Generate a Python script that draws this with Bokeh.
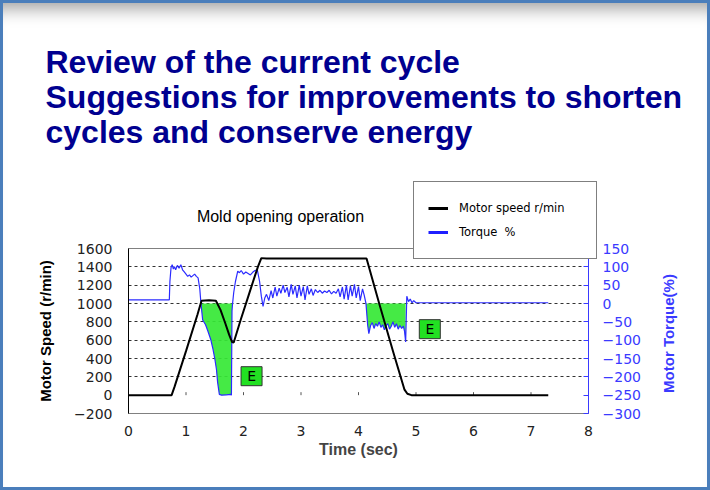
import numpy as np
from bokeh.plotting import figure
from bokeh.layouts import column
from bokeh.models import (Range1d, LinearAxis, FixedTicker, Label, Legend, LegendItem,
                          CustomJSTickFormatter)
from bokeh.core.properties import value
from bokeh.embed import file_html
from bokeh.resources import INLINE

# ---------------- data ----------------
speed_t = [0.0, 0.75, 0.80, 1.00, 1.20, 1.27, 1.40, 1.52, 1.60, 1.68, 1.75, 1.80, 1.83,
           1.95, 2.10, 2.25, 2.31, 2.40, 3.00, 3.60, 4.14, 4.36, 4.60, 4.80, 4.85, 4.92, 7.30]
speed_rpm = [0, 0, 90, 480, 880, 1030, 1035, 1030, 930, 790, 660, 580, 575,
             820, 1110, 1400, 1495, 1492, 1490, 1492, 1490, 1000, 480, 60, 15, 0, 0]

torque_t = [0.00, 0.71, 0.72, 0.74, 0.76, 0.78, 0.80, 0.82, 0.85, 0.88, 0.91, 0.94, 0.97,
            1.00, 1.03, 1.06, 1.09, 1.12, 1.15, 1.18, 1.21, 1.24, 1.26, 1.29, 1.34, 1.38,
            1.43, 1.47, 1.50, 1.53, 1.55, 1.58, 1.62, 1.70, 1.78, 1.79, 1.80, 1.81, 1.83,
            1.86, 1.90, 1.93, 1.96, 2.00, 2.04, 2.08, 2.12, 2.16, 2.20, 2.24, 2.28, 2.31,
            2.34, 2.37, 2.40, 2.44, 2.48, 2.51, 2.55, 2.58, 2.62, 2.65, 2.69, 2.72, 2.76,
            2.79, 2.83, 2.86, 2.90, 2.93, 2.97, 3.00, 3.04, 3.07, 3.11, 3.14, 3.18, 3.21,
            3.25, 3.29, 3.33, 3.37, 3.41, 3.45, 3.49, 3.53, 3.57, 3.61, 3.65, 3.68, 3.72,
            3.75, 3.79, 3.82, 3.86, 3.89, 3.93, 3.96, 4.00, 4.03, 4.07, 4.10, 4.13, 4.16,
            4.18, 4.21, 4.24, 4.27, 4.30, 4.33, 4.36, 4.39, 4.42, 4.45, 4.48, 4.51, 4.54,
            4.57, 4.60, 4.63, 4.66, 4.69, 4.72, 4.75, 4.78, 4.80, 4.82, 4.84, 4.87, 4.90,
            4.93, 4.96, 5.00, 7.30]
torque_pct = [10, 10, 60, 98, 106, 94, 100, 92, 104, 96, 106, 92, 86,
              80, 74, 78, 72, 76, 80, 74, 70, 40, 0, -45, -58, -75,
              -98, -125, -150, -180, -215, -248, -250, -249, -248, -250, -20, 0, 30,
              60, 88, 84, 90, 80, 86, 82, 78, 85, 90, 92, 60, 20,
              -8, 15, 25, 8, 35, 15, 45, 20, 42, 28, 50, 30, 44,
              18, 52, 25, 48, 15, 50, 20, 46, 10, 48, 25, 40, 22,
              38, 30, 36, 28, 34, 30, 36, 26, 33, 28, 40, 18, 45,
              12, 50, 10, 48, 20, 52, 15, 46, 8, 40, 22, 0, -60,
              -82, -60, -52, -68, -55, -62, -50, -65, -58, -72, -60, -55, -70,
              -62, -50, -65, -55, -70, -60, -68, -62, -75, -105, 20, 5, 12,
              2, 8, 2, 2]

energy_windows = [(1.26, 1.80), (4.13, 4.82)]   # regenerative ("E") torque regions
e_label_t = [2.14, 5.24]
e_label_rpm = [207, 720]

x_ticks = [0, 1, 2, 3, 4, 5, 6, 7, 8]
zero_line_ticks = [1, 2, 3, 4, 5, 6, 7]
speed_ticks = [-200, 0, 200, 400, 600, 800, 1000, 1200, 1400, 1600]
torque_ticks = [-300, -250, -200, -150, -100, -50, 0, 50, 100, 150]
grid_ticks = [200, 400, 600, 800, 1000, 1200, 1400]

title_lines = ["Review of the current cycle",
               "Suggestions for improvements to shorten",
               "cycles and conserve energy"]
chart_title = "Mold opening operation"
legend_labels = ["Motor speed r/min", "Torque  %"]
torque_axis_title = "Motor Torque(%)"

# ---------------- layout ----------------
PAGE_W, PAGE_H = 710, 490
FL, FT, FW, FH = 128, 248, 460, 165
X0, X1 = 0, 8
Y0, Y1 = -200, 1600
T0, T1 = -300, 150

BLUE = "#2b2bff"
AXBLUE = "#3a3aff"
GREEN = "#35e835"
NAVY = "#000090"


def no_frame_align(fig):
    try:
        fig.frame_align = False
    except Exception:
        pass


# ---------------- overlay figure: free texts + legend (pixel coordinates) ----------------
ph = figure(width=PAGE_W, height=PAGE_H, output_backend="svg", toolbar_location=None,
            title=None, x_range=Range1d(0, PAGE_W), y_range=Range1d(PAGE_H, 0),
            x_axis_location=None, y_axis_location=None,
            min_border=0, min_border_left=0, min_border_right=0,
            min_border_top=0, min_border_bottom=0,
            background_fill_color=None, border_fill_color=None, outline_line_color=None)
ph.grid.visible = False
ph.styles = {"position": "relative", "z-index": "2"}
no_frame_align(ph)

for i, line in enumerate(title_lines):
    ph.add_layout(Label(x=45, y=61 + 35 * i, text=line, text_font="Liberation Sans",
                        text_font_style="bold", text_font_size="32px", text_color=NAVY,
                        text_baseline="alphabetic", text_align="left"))

ph.add_layout(Label(x=280, y=216, text=chart_title, text_font="Liberation Sans",
                    text_font_size="16px", text_color="black", text_align="center",
                    text_baseline="middle"))

ph.add_layout(Label(x=668, y=333, text=torque_axis_title, angle=np.pi / 2,
                    text_font="Liberation Sans", text_font_style="bold", text_font_size="15px",
                    text_color=AXBLUE, text_align="center", text_baseline="middle"))

# legend proxies (no visible data of their own)
r_leg_speed = ph.line(x=[np.nan, np.nan], y=[np.nan, np.nan], line_color="black", line_width=3)
r_leg_torque = ph.line(x=[np.nan, np.nan], y=[np.nan, np.nan], line_color="#1f1fff", line_width=3)
legend = Legend(items=[LegendItem(label=legend_labels[0], renderers=[r_leg_speed], index=0),
                       LegendItem(label=legend_labels[1], renderers=[r_leg_torque], index=0)],
                location=(413, PAGE_H - 259), orientation="vertical", margin=0,
                border_line_color="black", border_line_width=1,
                background_fill_color="white", background_fill_alpha=1.0,
                padding=14, spacing=0, glyph_width=20, glyph_height=24,
                label_height=24, label_width=123, label_standoff=11,
                label_text_font="DejaVu Sans", label_text_font_size="11.5px",
                label_text_color="black")
ph.add_layout(legend)

# ---------------- chart figure ----------------
p = figure(width=PAGE_W, height=PAGE_H, output_backend="svg", toolbar_location=None, title=None,
           x_range=Range1d(X0, X1), y_range=Range1d(Y0, Y1),
           min_border_left=FL, min_border_right=PAGE_W - FL - FW,
           min_border_top=FT, min_border_bottom=PAGE_H - FT - FH,
           background_fill_color="white", border_fill_color=None)
p.styles = {"margin-top": "-%dpx" % PAGE_H}
no_frame_align(p)
p.outline_line_color = "#808080"
p.extra_y_ranges = {"torque": Range1d(T0, T1)}

minus_fmt = CustomJSTickFormatter(code="return tick < 0 ? '\u2212' + Math.abs(tick) : String(tick);")

ly = p.left[0]
ly.ticker = FixedTicker(ticks=speed_ticks)
ly.formatter = minus_fmt
ly.axis_line_color = "black"
ly.major_tick_out = 0
ly.major_tick_in = 0
ly.minor_tick_line_color = None
ly.major_label_standoff = 16
ly.major_label_text_font = "DejaVu Sans"
ly.major_label_text_font_size = "14px"
ly.major_label_text_color = "#222222"
ly.axis_label = "Motor Speed (r/min)"
ly.axis_label_text_font = "Liberation Sans"
ly.axis_label_text_font_style = "bold"
ly.axis_label_text_font_size = "15px"
ly.axis_label_text_color = "black"
ly.axis_label_standoff = 17

bx = p.below[0]
bx.ticker = FixedTicker(ticks=x_ticks)
bx.axis_line_color = "#808080"
bx.major_tick_out = 0
bx.major_tick_in = 0
bx.minor_tick_line_color = None
bx.major_label_standoff = 12
bx.major_label_text_font = "DejaVu Sans"
bx.major_label_text_font_size = "14px"
bx.major_label_text_color = "#222222"
bx.axis_label = "Time (sec)"
bx.axis_label_text_font = "Liberation Sans"
bx.axis_label_text_font_style = "bold"
bx.axis_label_text_font_size = "16px"
bx.axis_label_standoff = 2

ry = LinearAxis(y_range_name="torque", ticker=FixedTicker(ticks=torque_ticks), formatter=minus_fmt)
ry.axis_line_color = AXBLUE
ry.major_tick_line_color = AXBLUE
ry.major_tick_in = 5
ry.major_tick_out = 0
ry.minor_tick_line_color = None
ry.major_label_standoff = 14
ry.major_label_text_font = "DejaVu Sans"
ry.major_label_text_font_size = "14px"
ry.major_label_text_color = AXBLUE
p.add_layout(ry, "right")

p.xgrid.visible = False
p.ygrid.ticker = FixedTicker(ticks=grid_ticks)
p.ygrid.grid_line_color = "#333333"
p.ygrid.grid_line_dash = "3 3"
p.ygrid.grid_line_width = 1

tt = np.array(torque_t)
tv = np.array(torque_pct, dtype=float)
for a, b in energy_windows:
    m = (tt >= a) & (tt <= b)
    p.varea(x=tt[m], y1=np.minimum(tv[m], 0), y2=np.zeros(m.sum()), y_range_name="torque",
            fill_color=GREEN, fill_alpha=0.92)

tick_len = 3 * (Y1 - Y0) / FH
p.segment(x0=zero_line_ticks, y0=[0] * len(zero_line_ticks), x1=zero_line_ticks,
          y1=[tick_len] * len(zero_line_ticks), line_color="#555555", line_width=1)

p.line(torque_t, torque_pct, y_range_name="torque", line_color=BLUE, line_width=1.2)
p.line(speed_t, speed_rpm, line_color="black", line_width=2)

p.rect(x=e_label_t, y=e_label_rpm, width=21, height=19, width_units="screen",
       height_units="screen", fill_color="#22e022", line_color="#333333", line_width=1)
p.text(x=e_label_t, y=e_label_rpm, text=["E", "E"], text_align="center",
       text_baseline="middle", text_font=value("DejaVu Sans"), text_font_size="14px",
       text_color="black")

page = column(ph, p, spacing=0,
              styles={"outline": "3px solid #4a7ebb", "outline-offset": "-3px",
                      "box-shadow": "inset 0 20px 18px -12px rgba(0,0,0,0.40)",
                      "background": "white"})

open("out.html", "w").write(file_html(page, INLINE))
